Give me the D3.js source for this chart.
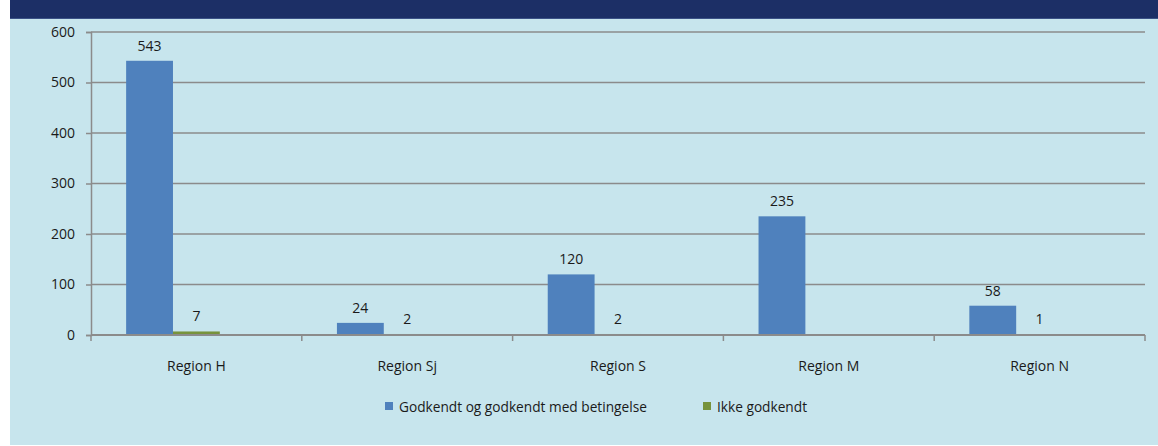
<!DOCTYPE html>
<html>
<head>
<meta charset="utf-8">
<script src="https://cdn.jsdelivr.net/npm/d3@7"></script>
<style>
  body { margin: 0; background: #fff; }
  svg { display: block; font-family: "Open Sans", sans-serif; }
</style>
</head>
<body>
<svg id="chart" width="1158" height="446"></svg>
<script>
const regions = ["Region H", "Region Sj", "Region S", "Region M", "Region N"];
const godkendt = [543, 24, 120, 235, 58];
const ikkeGodkendt = [7, 2, 2, null, 1];
const seriesNames = ["Godkendt og godkendt med betingelse", "Ikke godkendt"];
const seriesColors = ["#4f81bd", "#77933c"];
const yTicks = [0, 100, 200, 300, 400, 500, 600];

const svg = d3.select("#chart"),
    width = +svg.attr("width"),
    height = +svg.attr("height");

const fontSize = 14;

// panel + banner
svg.append("rect").attr("x", 10).attr("y", 0).attr("width", width - 10).attr("height", 445)
  .attr("fill", "#c7e5ed");
svg.append("rect").attr("x", 10).attr("y", 0).attr("width", width - 10).attr("height", 18.5)
  .attr("fill", "#1c2f66");
svg.append("line").attr("x1", 10).attr("x2", width).attr("y1", 18.5).attr("y2", 18.5)
  .attr("stroke", "#3b5287").attr("stroke-width", 1);

const margin = {left: 91, right: 13, top: 32, bottom: 111};
const plotW = width - margin.left - margin.right,
    plotH = height - margin.top - margin.bottom;

const x0 = d3.scaleBand()
  .domain(regions)
  .range([margin.left, margin.left + plotW])
  .paddingInner(1 / 3)
  .paddingOuter(1 / 6);

// three slots per group as in the original (third series is empty)
const x1 = d3.scaleBand()
  .domain([0, 1, 2])
  .range([0, x0.bandwidth()]);

const y = d3.scaleLinear()
  .domain([0, 600])
  .range([margin.top + plotH, margin.top]);

// gridlines
svg.append("g")
  .selectAll("line")
  .data(yTicks.slice(1))
  .join("line")
    .attr("x1", margin.left)
    .attr("x2", margin.left + plotW)
    .attr("y1", d => y(d))
    .attr("y2", d => y(d))
    .attr("stroke", "#8b8b8b")
    .attr("stroke-width", 1.5);

// y axis
const yAxis = svg.append("g")
  .attr("transform", `translate(${margin.left},0)`)
  .call(d3.axisLeft(y).tickValues(yTicks).tickSize(5).tickPadding(11));
yAxis.select(".domain").attr("stroke", "#8b8b8b").attr("stroke-width", 1.5);
yAxis.selectAll(".tick line").attr("stroke", "#8b8b8b").attr("stroke-width", 1.5);
yAxis.selectAll("text").attr("font-size", fontSize).attr("fill", "#1a1a1a")
  .attr("font-family", "'Open Sans', sans-serif");

// bars
const groups = svg.append("g")
  .selectAll("g")
  .data(regions)
  .join("g")
    .attr("transform", d => `translate(${x0(d)},0)`);

const rows = regions.map((r, i) => [
  {s: 0, v: godkendt[i]},
  {s: 1, v: ikkeGodkendt[i]}
]);

groups.selectAll("rect")
  .data((d, i) => rows[i].filter(e => e.v != null))
  .join("rect")
    .attr("x", d => x1(d.s))
    .attr("width", x1.bandwidth())
    .attr("y", d => y(d.v))
    .attr("height", d => y(0) - y(d.v))
    .attr("fill", d => seriesColors[d.s]);

groups.selectAll("text")
  .data((d, i) => rows[i].filter(e => e.v != null))
  .join("text")
    .attr("x", d => x1(d.s) + x1.bandwidth() / 2)
    .attr("y", d => y(d.v) - 10)
    .attr("text-anchor", "middle")
    .attr("font-size", fontSize)
    .attr("fill", "#1a1a1a")
    .text(d => d.v);

// x axis
const xEdges = regions.map(r => x0(r) - x0.step() * x0.paddingInner() / 2)
  .concat([margin.left + plotW]);
svg.append("line")
  .attr("x1", margin.left).attr("x2", margin.left + plotW)
  .attr("y1", y(0)).attr("y2", y(0))
  .attr("stroke", "#8b8b8b").attr("stroke-width", 2);
svg.append("g")
  .selectAll("line")
  .data(xEdges)
  .join("line")
    .attr("x1", d => d).attr("x2", d => d)
    .attr("y1", y(0)).attr("y2", y(0) + 6)
    .attr("stroke", "#8b8b8b").attr("stroke-width", 1.5);

svg.append("g")
  .selectAll("text")
  .data(regions)
  .join("text")
    .attr("x", d => x0(d) + x0.bandwidth() / 2)
    .attr("y", y(0) + 36)
    .attr("text-anchor", "middle")
    .attr("font-size", fontSize)
    .attr("fill", "#1a1a1a")
    .text(d => d);

// legend
const legendX = [385, 703];
const legend = svg.append("g")
  .selectAll("g")
  .data(seriesNames)
  .join("g")
    .attr("transform", (d, i) => `translate(${legendX[i]},402)`);
legend.append("rect")
  .attr("width", 8).attr("height", 8)
  .attr("fill", (d, i) => seriesColors[i]);
legend.append("text")
  .attr("x", 14)
  .attr("y", 10)
  .attr("font-size", 13.7)
  .attr("fill", "#1a1a1a")
  .text(d => d);
</script>
</body>
</html>
